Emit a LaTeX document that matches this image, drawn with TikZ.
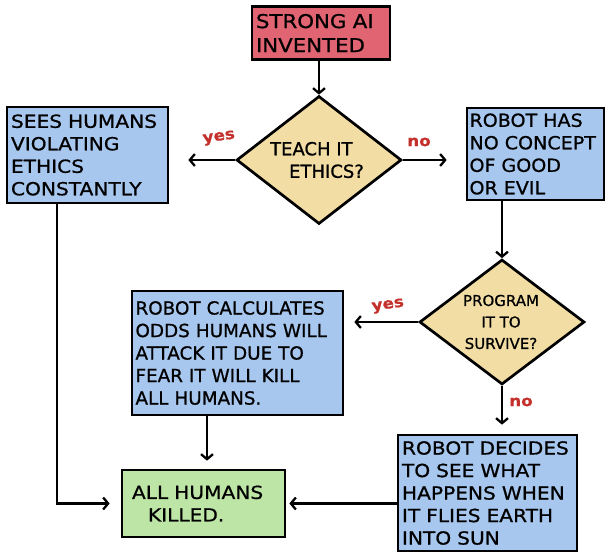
\documentclass[tikz,border=0pt]{standalone}
\usepackage{fontspec}
\setmainfont[FakeStretch=1.12,FakeBold=0.8]{DejaVu Sans}
\newfontfamily\mfont[FakeStretch=1.02,FakeBold=0.8]{DejaVu Sans}
\newfontfamily\rfont[FakeStretch=1.06,FakeBold=0.8]{DejaVu Sans}
\newfontfamily\dfont[FakeStretch=1.0,FakeBold=0.8]{DejaVu Sans}
\usetikzlibrary{shapes.geometric,arrows.meta}
\definecolor{boxred}{HTML}{E06472}
\definecolor{boxtan}{HTML}{F2DDA4}
\definecolor{boxblue}{HTML}{A7C7EE}
\definecolor{boxgreen}{HTML}{BDE5A5}
\definecolor{labred}{HTML}{C4302B}
\hyphenpenalty=10000
\begin{document}
\begin{tikzpicture}[x=1pt,y=-1pt,
  box/.style={draw=black,line width=2.7pt,rectangle,inner xsep=4pt,inner ysep=0pt,align=left,
    font=\fontsize{18}{22.5}\selectfont},
  dia/.style={draw=black,line width=2.7pt,diamond,fill=boxtan,inner sep=0pt},
  diatext/.style={align=left,inner sep=0pt},
  conn/.style={line width=2.3pt,-{Straight Barb[length=5pt,width=12pt]}},
  lab/.style={text=labred,font=\fontsize{15}{15}\selectfont\bfseries,inner sep=0pt}]
\useasboundingbox (0,0) rectangle (608,552);
% boxes
\node[box,fill=boxred,minimum width=138pt,minimum height=53pt,text width=130pt,font=\fontsize{19}{24}\selectfont] (top) at (321,33) {STRONG AI\\INVENTED};
\node[box,fill=boxblue,minimum width=161pt,minimum height=96pt,text width=153pt] (lbox) at (87.5,155) {SEES HUMANS\\VIOLATING\\ETHICS\\CONSTANTLY};
\node[box,fill=boxblue,minimum width=137pt,minimum height=92pt,text width=132pt,inner xsep=2.5pt,font=\rfont\fontsize{18}{22.5}\selectfont] (rbox) at (535.5,154) {ROBOT HAS\\NO CONCEPT\\OF GOOD\\OR EVIL};
\node[box,fill=boxblue,minimum width=211pt,minimum height=124pt,text width=204pt,inner xsep=3.5pt,font=\mfont\fontsize{18}{22.5}\selectfont] (mbox) at (237.5,353) {ROBOT CALCULATES\\ODDS HUMANS WILL\\ATTACK IT DUE TO\\FEAR IT WILL KILL\\ALL HUMANS.};
\node[box,fill=boxgreen,minimum width=163pt,minimum height=67pt,text width=149pt,inner xsep=7pt] (kbox) at (203.5,503.5) {\hspace*{3pt}ALL HUMANS\\\hspace*{19pt}KILLED.};
\node[box,fill=boxblue,minimum width=179pt,minimum height=116pt,text width=171pt] (sbox) at (487.5,493) {ROBOT DECIDES\\TO SEE WHAT\\HAPPENS WHEN\\IT FLIES EARTH\\INTO SUN};
% diamonds
\node[dia,minimum width=165pt,minimum height=128pt] (d1) at (319,160) {};
\node[diatext,font=\dfont\fontsize{18}{22.5}\selectfont] (d1t) at (317,160) {TEACH IT\\\hspace*{19pt}ETHICS?};
\node[dia,minimum width=165pt,minimum height=125pt] (d2) at (502,322) {};
\node[diatext,align=center,font=\dfont\fontsize{15}{21.5}\selectfont] (d2t) at (501,322) {PROGRAM\\IT TO\\SURVIVE?};
% connectors
\draw[conn] (top.south -| d1.north) -- (d1.north);
\draw[conn,shorten >=19pt] (d1.west) -- (d1.west -| lbox.east);
\draw[conn,shorten >=19pt] (d1.east) -- (d1.east -| rbox.west);
\coordinate (rb) at (rbox.south -| d2.north);
\draw[conn] (rb) -- (d2.north);
\draw[conn,shorten >=10pt] (d2.west) -- (d2.west -| mbox.east);
\coordinate (sn) at (d2.south |- sbox.north);
\draw[conn,shorten >=9pt] (d2.south) -- (sn);
\coordinate (mb) at (207,0);
\draw[conn,shorten >=8pt] (mbox.south -| mb) -- (kbox.north -| mb);
\coordinate (lb) at (57,0);
\draw[conn,shorten >=11pt] (lbox.south -| lb) |- (kbox.west);
\draw[conn,shorten >=3pt] (sbox.west |- kbox.east) -- (kbox.east);
% labels
\node[lab,rotate=8] (y1) at (219,138) {yes};
\node[lab] (n1) at (419,142) {no};
\node[lab,rotate=8] (y2) at (388,306) {yes};
\node[lab] (n2) at (521,402) {no};
\end{tikzpicture}
\end{document}
